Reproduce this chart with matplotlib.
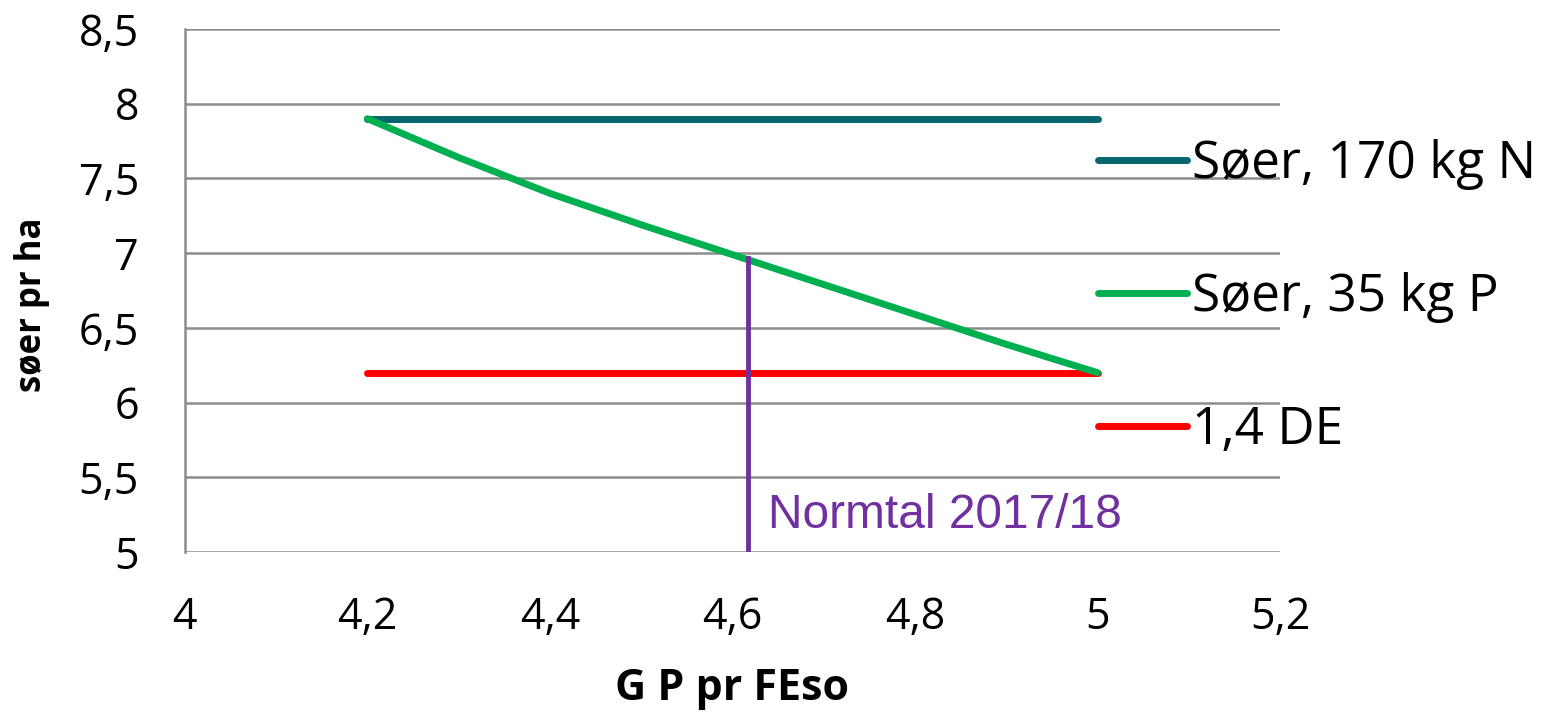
import numpy as np
import matplotlib
matplotlib.use('Agg')
import matplotlib.pyplot as plt

# data
gp = [4.2, 4.3, 4.4, 4.5, 4.6, 4.7, 4.8, 4.9, 5.0]
soer_n = [7.9, 7.9, 7.9, 7.9, 7.9, 7.9, 7.9, 7.9, 7.9]
soer_p = [7.9, 7.64, 7.40, 7.19, 6.99, 6.79, 6.59, 6.39, 6.2]
de14 = [6.2, 6.2, 6.2, 6.2, 6.2, 6.2, 6.2, 6.2, 6.2]
labels = ['Søer, 170 kg N', 'Søer, 35 kg P', '1,4 DE']
normtal_x = 4.617
normtal_y = 6.97

xticks = [4, 4.2, 4.4, 4.6, 4.8, 5, 5.2]
yticks = [5, 5.5, 6, 6.5, 7, 7.5, 8, 8.5]

plt.rcParams['font.family'] = ['Open Sans', 'DejaVu Sans']

fig = plt.figure(figsize=(15.45, 7.13), dpi=100)
ax = fig.add_axes([0.1197, 0.2258, 0.8285 - 0.1197, 0.9593 - 0.2258])

lw = 5
ax.plot(gp, soer_n, color='#06666F', lw=lw, solid_capstyle='round', label=labels[0], zorder=3)
ax.plot(gp, soer_p, color='#00B050', lw=lw, solid_capstyle='round', label=labels[1], zorder=4)
ax.plot(gp, de14, color='#FF0000', lw=lw, solid_capstyle='round', label=labels[2], zorder=3)

ax.plot([normtal_x, normtal_x], [5, normtal_y], color='#7030A0', lw=3.5, zorder=5)
ax.text(normtal_x + 0.022, 5.16, 'Normtal 2017/18', color='#7030A0', fontsize=34.5,
        family='Liberation Sans', va='baseline', ha='left')

ax.set_xlim(4, 5.2)
ax.set_ylim(5, 8.5)
ax.set_xticks(xticks)
ax.set_yticks(yticks)
ax.set_xticklabels([str(t).replace('.', ',') for t in xticks])
ax.set_yticklabels([('%g' % t).replace('.', ',') for t in yticks])
ax.tick_params(axis='both', length=0, labelsize=31)
ax.tick_params(axis='x', pad=31)
ax.tick_params(axis='y', pad=33)

ax.grid(axis='y', color='#8C8C8C', lw=1.8)
ax.set_axisbelow(True)
for s in ['top', 'right', 'bottom']:
    ax.spines[s].set_visible(False)
ax.spines['left'].set_color('#8C8C8C')
ax.spines['left'].set_linewidth(1.8)

ax.set_xlabel('G P pr FEso', fontsize=31, fontweight='bold', labelpad=20)
ax.set_ylabel('søer pr ha', fontsize=25, fontweight='bold')
ax.yaxis.set_label_coords(-0.123, 0.472)

ax.legend(loc='center left', bbox_to_anchor=(0.8338, 0.487), frameon=False, fontsize=37,
          handlelength=1.73, handletextpad=0.1, labelspacing=1.59, borderaxespad=0,
          borderpad=0)

plt.savefig('out.png', dpi=100)
